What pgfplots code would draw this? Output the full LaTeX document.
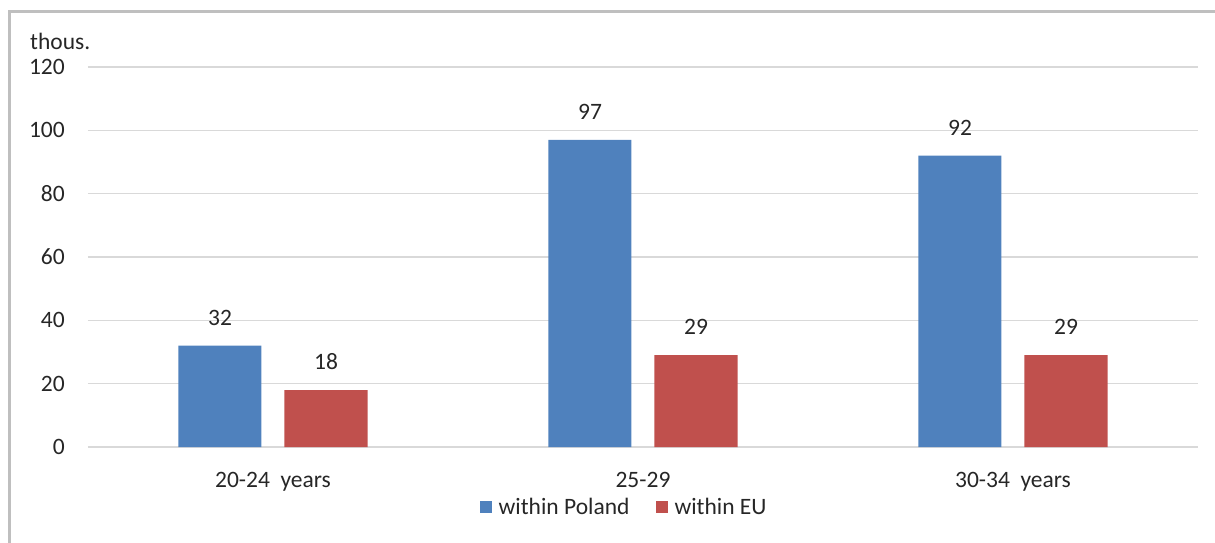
\documentclass[border=0pt]{standalone}
\usepackage{fontspec}
\setmainfont{Carlito}
\usepackage{pgfplots}
\pgfplotsset{compat=1.18}
\definecolor{barblue}{HTML}{4F81BD}
\definecolor{barred}{HTML}{C0504D}
\definecolor{gridgray}{HTML}{D9D9D9}
\definecolor{framegray}{HTML}{BFBFBF}
\definecolor{txt}{HTML}{262626}
\newcommand{\chartfont}{\fontsize{23.5}{28}\selectfont}
\begin{document}
\begin{tikzpicture}
\path[use as bounding box] (-88pt,-95pt) rectangle (1127pt,447pt);
\draw[framegray, line width=3pt] (-78pt,-96pt) -- (-78pt,435pt) -- (1128pt,435pt);
\begin{axis}[
  at={(0,0)}, anchor=south west,
  scale only axis,
  width=1110pt, height=380pt,
  xmin=-0.5, xmax=2.5,
  ymin=0, ymax=120,
  ytick={0,20,...,120},
  xtick={0,1,2},
  xticklabels={20-24\ \ years, 25-29, 30-34\ \ years},
  axis line style={draw=none},
  tick style={draw=none},
  major tick length=0pt,
  ymajorgrids,
  grid style={draw=gridgray, line width=1.3pt},
  font=\chartfont,
  /pgf/number format/assume math mode=true,
  yticklabel style={anchor=east, inner sep=0pt, xshift=-23pt, text=txt},
  xticklabel style={anchor=base, inner sep=0pt, yshift=-40pt, text=txt},
  ybar, bar width=83pt,
  nodes near coords,
  every node near coord/.append style={anchor=center, inner sep=0pt, yshift=28pt, text=txt, font=\chartfont},
  legend style={at={(0.483,-0.158)}, anchor=center, draw=none, fill=none,
    legend columns=2, font=\chartfont, text=txt,
    /tikz/every odd column/.append style={column sep=5pt},
    /tikz/every even column/.append style={column sep=24pt},
    inner sep=0pt},
  legend image code/.code={\fill[#1] (0pt,-6pt) rectangle (12pt,6pt);},
  clip=false,
]
\addplot[fill=barblue, draw=none, bar shift=-53pt] coordinates {(0,32) (1,97) (2,92)};
\addplot[fill=barred, draw=none, bar shift=53pt] coordinates {(0,18) (1,29) (2,29)};
\legend{within Poland, within EU}
\end{axis}
\node[anchor=west, inner sep=0pt, text=txt, font=\chartfont] at (-58pt,406pt) {thous.};
\end{tikzpicture}
\end{document}
